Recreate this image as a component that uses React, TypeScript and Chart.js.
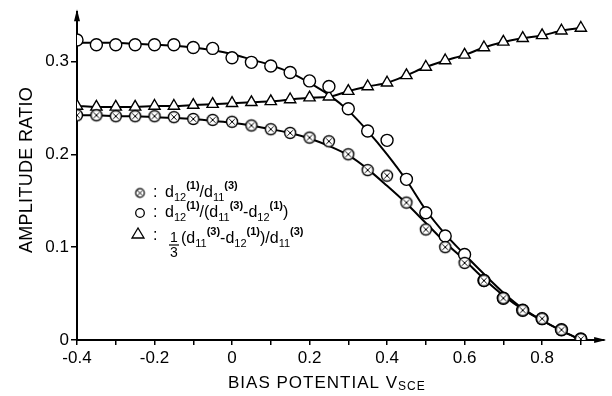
import React, { useEffect, useRef } from 'react';
import { Chart, registerables } from 'chart.js';

Chart.register(...registerables);

// ---------- data ----------
const xValues = [
  -0.4, -0.35, -0.3, -0.25, -0.2, -0.15, -0.1, -0.05, 0, 0.05, 0.1, 0.15, 0.2, 0.25,
  0.3, 0.35, 0.4, 0.45, 0.5, 0.55, 0.6, 0.65, 0.7, 0.75, 0.8, 0.85, 0.9,
];

// ⊗ : d12(1)/d11(3)  (measured)
const otimesValues = [
  0.242, 0.242, 0.241, 0.241, 0.241, 0.240, 0.238, 0.237, 0.235, 0.231, 0.227, 0.223, 0.218, 0.214,
  0.200, 0.183, 0.177, 0.148, 0.119, 0.100, 0.083, 0.064, 0.045, 0.032, 0.023, 0.011, 0.001,
];
// fitted curve through ⊗
const otimesCurve = [
  0.242, 0.242, 0.241, 0.241, 0.240, 0.239, 0.238, 0.236, 0.234, 0.231, 0.227, 0.223, 0.217, 0.209,
  0.199, 0.184, 0.166, 0.147, 0.126, 0.105, 0.086, 0.066, 0.048, 0.033, 0.021, 0.010, 0.0,
];

// ○ : d12(1)/(d11(3)-d12(1))  (measured)
const circleValues = [
  0.323, 0.318, 0.318, 0.318, 0.318, 0.318, 0.315, 0.314, 0.304, 0.299, 0.295, 0.288, 0.279, 0.273,
  0.249, 0.225, 0.215, 0.173, 0.137, 0.112, 0.092, 0.064, 0.045, 0.032, 0.023, 0.011, 0.001,
];
// fitted curve through ○
const circleCurve = [
  0.320, 0.320, 0.320, 0.319, 0.318, 0.317, 0.315, 0.312, 0.308, 0.302, 0.296, 0.288, 0.277, 0.264,
  0.247, 0.225, 0.200, 0.172, 0.140, 0.114, 0.092, 0.071, 0.051, 0.034, 0.021, 0.010, 0.0,
];

// △ : 1/3 (d11(3)-d12(1))/d11(3)  (measured)
const triangleValues = [
  0.252, 0.251, 0.251, 0.251, 0.252, 0.252, 0.253, 0.254, 0.255, 0.256, 0.257, 0.259, 0.261, 0.262,
  0.268, 0.273, 0.277, 0.285, 0.294, 0.301, 0.307, 0.315, 0.321, 0.325, 0.328, 0.333, 0.336,
];

const xTickLabels = ['-0.4', '-0.2', '0', '0.2', '0.4', '0.6', '0.8'];
const yTickLabels = ['0', '0.1', '0.2', '0.3'];
const xAxisTitle = 'BIAS POTENTIAL V';
const xAxisTitleSub = 'SCE';
const yAxisTitle = 'AMPLITUDE RATIO';

type Seg = [string, 'n' | 'sub' | 'sup'];
const legendLine1: Seg[] = [['d', 'n'], ['12', 'sub'], ['(1)', 'sup'], ['/', 'n'], ['d', 'n'], ['11', 'sub'], ['(3)', 'sup']];
const legendLine2: Seg[] = [['d', 'n'], ['12', 'sub'], ['(1)', 'sup'], ['/(', 'n'], ['d', 'n'], ['11', 'sub'], ['(3)', 'sup'], ['-', 'n'], ['d', 'n'], ['12', 'sub'], ['(1)', 'sup'], [')', 'n']];
const legendLine3: Seg[] = [['(', 'n'], ['d', 'n'], ['11', 'sub'], ['(3)', 'sup'], ['-', 'n'], ['d', 'n'], ['12', 'sub'], ['(1)', 'sup'], [')/', 'n'], ['d', 'n'], ['11', 'sub'], ['(3)', 'sup']];
const fractionNum = '1';
const fractionDen = '3';

const FONT = '"Liberation Sans", Arial, sans-serif';

function makeOtimes(r: number, lw: number): HTMLCanvasElement {
  const size = Math.ceil(r * 2 + lw * 2 + 2);
  const c = document.createElement('canvas');
  c.width = size;
  c.height = size;
  const g = c.getContext('2d')!;
  const cx = size / 2;
  g.fillStyle = '#fff';
  g.strokeStyle = '#000';
  g.lineWidth = lw;
  g.beginPath();
  g.arc(cx, cx, r, 0, Math.PI * 2);
  g.fill();
  g.stroke();
  const d = r * 0.5;
  g.lineWidth = 1;
  g.beginPath();
  g.moveTo(cx - d, cx - d);
  g.lineTo(cx + d, cx + d);
  g.moveTo(cx + d, cx - d);
  g.lineTo(cx - d, cx + d);
  g.stroke();
  return c;
}

function drawRich(ctx: CanvasRenderingContext2D, x: number, baseline: number, segs: Seg[]) {
  let cx = x;
  for (const [t, m] of segs) {
    if (m === 'n') {
      ctx.font = `16px ${FONT}`;
      ctx.fillText(t, cx, baseline);
    } else if (m === 'sub') {
      ctx.font = `11px ${FONT}`;
      ctx.fillText(t, cx, baseline + 4);
    } else {
      ctx.font = `bold 11px ${FONT}`;
      ctx.fillText(t, cx, baseline - 8);
    }
    cx += ctx.measureText(t).width;
  }
}

const decorPlugin = {
  id: 'decor',
  afterDraw(chart: any) {
    const ctx: CanvasRenderingContext2D = chart.ctx;
    const a = chart.chartArea;
    ctx.save();
    ctx.fillStyle = '#000';
    ctx.strokeStyle = '#000';
    // arrow heads
    ctx.beginPath();
    ctx.moveTo(a.left, a.top - 3);
    ctx.lineTo(a.left - 3, a.top + 9);
    ctx.lineTo(a.left + 3, a.top + 9);
    ctx.closePath();
    ctx.fill();
    ctx.beginPath();
    ctx.moveTo(a.right + 2, a.bottom);
    ctx.lineTo(a.right - 10, a.bottom - 3);
    ctx.lineTo(a.right - 10, a.bottom + 3);
    ctx.closePath();
    ctx.fill();

    // x axis title
    ctx.textAlign = 'left';
    ctx.textBaseline = 'alphabetic';
    (ctx as any).letterSpacing = '1px';
    ctx.font = `17px ${FONT}`;
    const tx = 228;
    ctx.fillText(xAxisTitle, tx, 388);
    const w = ctx.measureText(xAxisTitle).width;
    ctx.font = `12px ${FONT}`;
    ctx.fillText(xAxisTitleSub, tx + w, 390);

    // y axis title
    (ctx as any).letterSpacing = '0.3px';
    ctx.save();
    ctx.translate(32, 170);
    ctx.rotate(-Math.PI / 2);
    ctx.textAlign = 'center';
    ctx.font = `18px ${FONT}`;
    ctx.fillText(yAxisTitle, 0, 0);
    ctx.restore();
    (ctx as any).letterSpacing = '0px';

    // legend
    ctx.lineWidth = 1.3;
    ctx.textAlign = 'left';
    const sym = makeOtimes(4.3, 1.2);
    ctx.drawImage(sym, 140 - sym.width / 2, 193 - sym.height / 2);
    ctx.beginPath();
    ctx.arc(140, 213, 4.3, 0, Math.PI * 2);
    ctx.stroke();
    ctx.beginPath();
    ctx.moveTo(138, 228);
    ctx.lineTo(132, 238);
    ctx.lineTo(144, 238);
    ctx.closePath();
    ctx.stroke();
    ctx.font = `16px ${FONT}`;
    ctx.fillText(':', 153, 197);
    ctx.fillText(':', 153, 217);
    ctx.fillText(':', 153, 240);
    drawRich(ctx, 165, 197, legendLine1);
    drawRich(ctx, 165, 217, legendLine2);
    ctx.font = `14px ${FONT}`;
    ctx.textAlign = 'center';
    ctx.fillText(fractionNum, 174, 242);
    ctx.fillText(fractionDen, 174, 257);
    ctx.lineWidth = 1.2;
    ctx.beginPath();
    ctx.moveTo(169, 245);
    ctx.lineTo(179, 245);
    ctx.stroke();
    ctx.textAlign = 'left';
    drawRich(ctx, 181, 243, legendLine3);
    ctx.restore();
  },
};

export default function App() {
  const ref = useRef<HTMLCanvasElement>(null);
  useEffect(() => {
    const canvas = ref.current!;
    const otimesImg = makeOtimes(5.5, 1.4);
    const pts = (ys: number[]) => xValues.map((x, i) => ({ x, y: ys[i] }));
    const lineDs = (ys: number[]) => ({
      type: 'line' as const,
      data: pts(ys),
      borderColor: '#000',
      borderWidth: 2,
      pointRadius: 0,
      cubicInterpolationMode: 'monotone' as const,
      fill: false,
      order: 2,
    });
    const markDs = (ys: number[], style: any, r: number) => ({
      type: 'line' as const,
      data: pts(ys),
      showLine: false,
      pointStyle: style,
      pointRadius: r,
      pointBackgroundColor: '#fff',
      pointBorderColor: '#000',
      pointBorderWidth: 1.4,
      order: 1,
    });
    const chart = new Chart(canvas, {
      type: 'line',
      data: {
        datasets: [
          lineDs(otimesCurve),
          lineDs(circleCurve),
          lineDs(triangleValues),
          markDs(otimesValues, otimesImg, 5.5),
          markDs(circleValues, 'circle', 6),
          markDs(triangleValues, 'triangle', 6.5),
        ] as any,
      },
      options: {
        animation: false,
        responsive: false,
        devicePixelRatio: 1,
        layout: { padding: { left: 0, top: 5, right: 7, bottom: 0 } },
        plugins: { legend: { display: false }, tooltip: { enabled: false } },
        scales: {
          x: {
            type: 'linear',
            min: -0.4,
            max: 0.96,
            afterFit: (s: any) => { s.height = 56; },
            border: { display: true, color: '#000', width: 2 },
            grid: { drawOnChartArea: false, drawTicks: true, tickLength: 5, color: '#000', lineWidth: 1.5 },
            ticks: {
              stepSize: 0.1,
              includeBounds: false,
              autoSkip: false,
              maxRotation: 0,
              padding: 3,
              color: '#000',
              font: { family: FONT, size: 17 },
              callback: (v: any) => {
                const k = Math.round(Number(v) * 10);
                if (k % 2 !== 0) return '';
                const idx = (k + 4) / 2;
                return xTickLabels[idx] ?? '';
              },
            },
          },
          y: {
            type: 'linear',
            min: 0,
            max: 0.353,
            afterFit: (s: any) => { s.width = 77; },
            border: { display: true, color: '#000', width: 2 },
            grid: { drawOnChartArea: false, drawTicks: true, tickLength: 6, color: '#000', lineWidth: 1.5 },
            ticks: {
              stepSize: 0.1,
              includeBounds: false,
              padding: 2,
              color: '#000',
              font: { family: FONT, size: 17 },
              callback: (v: any) => yTickLabels[Math.round(Number(v) * 10)] ?? '',
            },
          },
        },
      } as any,
      plugins: [decorPlugin],
    });
    return () => chart.destroy();
  }, []);
  return (
    <div style={{ position: 'fixed', left: 0, top: 0, width: 612, height: 396, background: '#fff' }}>
      <canvas ref={ref} width={612} height={396} style={{ display: 'block', width: 612, height: 396 }} />
    </div>
  );
}
